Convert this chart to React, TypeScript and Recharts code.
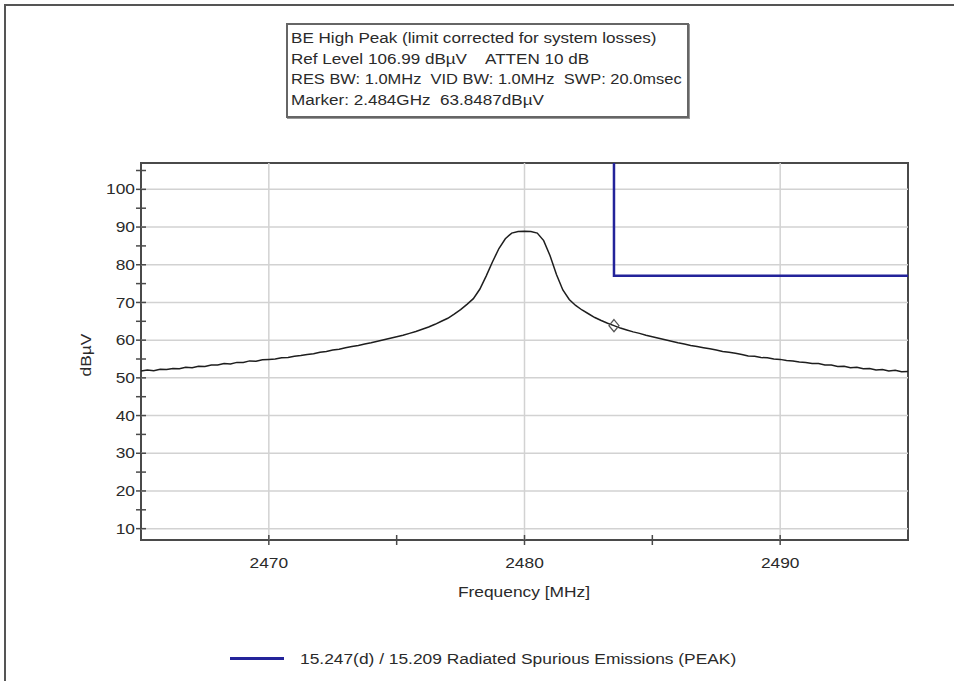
import React from 'react';
import { ComposedChart, Line, XAxis, YAxis, ReferenceLine, ReferenceArea, Scatter } from 'recharts';

// Frequency axis of the sweep (MHz)
const freqMHz = [
  2465.0, 2465.25, 2465.5, 2465.75, 2466.0, 2466.25, 2466.5, 2466.75, 2467.0, 2467.25,
  2467.5, 2467.75, 2468.0, 2468.25, 2468.5, 2468.75, 2469.0, 2469.25, 2469.5, 2469.75,
  2470.0, 2470.25, 2470.5, 2470.75, 2471.0, 2471.25, 2471.5, 2471.75, 2472.0, 2472.25,
  2472.5, 2472.75, 2473.0, 2473.25, 2473.5, 2473.75, 2474.0, 2474.25, 2474.5, 2474.75,
  2475.0, 2475.25, 2475.5, 2475.75, 2476.0, 2476.25, 2476.5, 2476.75, 2477.0, 2477.25,
  2477.5, 2477.75, 2478.0, 2478.25, 2478.5, 2478.75, 2479.0, 2479.25, 2479.5, 2479.75,
  2480.0, 2480.25, 2480.5, 2480.75, 2481.0, 2481.25, 2481.5, 2481.75, 2482.0, 2482.25,
  2482.5, 2482.75, 2483.0, 2483.25, 2483.5, 2483.75, 2484.0, 2484.25, 2484.5, 2484.75,
  2485.0, 2485.25, 2485.5, 2485.75, 2486.0, 2486.25, 2486.5, 2486.75, 2487.0, 2487.25,
  2487.5, 2487.75, 2488.0, 2488.25, 2488.5, 2488.75, 2489.0, 2489.25, 2489.5, 2489.75,
  2490.0, 2490.25, 2490.5, 2490.75, 2491.0, 2491.25, 2491.5, 2491.75, 2492.0, 2492.25,
  2492.5, 2492.75, 2493.0, 2493.25, 2493.5, 2493.75, 2494.0, 2494.25, 2494.5, 2494.75,
  2495.0,
];

// Measured peak trace (dBµV)
const levelDbuV = [
  51.8, 52.1, 51.9, 52.3, 52.2, 52.5, 52.4, 52.8, 52.7, 53.1,
  53.0, 53.4, 53.4, 53.8, 53.7, 54.1, 54.1, 54.5, 54.4, 54.8,
  54.9, 55.0, 55.3, 55.4, 55.7, 55.9, 56.2, 56.4, 56.8, 57.0,
  57.4, 57.6, 58.0, 58.3, 58.6, 59.0, 59.3, 59.7, 60.1, 60.5,
  60.9, 61.3, 61.8, 62.3, 62.9, 63.5, 64.2, 65.0, 65.8, 66.9,
  68.1, 69.5, 71.0, 73.5, 77.0, 80.8, 84.3, 86.9, 88.4, 88.8,
  88.9, 88.8, 88.4, 86.4, 82.4, 77.4, 73.3, 70.8, 69.2, 68.0,
  67.0, 66.0, 65.2, 64.5, 63.85, 63.2, 62.7, 62.2, 61.8, 61.3,
  60.9, 60.5, 60.1, 59.7, 59.3, 59.0, 58.6, 58.3, 58.0, 57.7,
  57.4, 57.0, 56.8, 56.5, 56.2, 55.8, 55.7, 55.4, 55.3, 55.0,
  54.9, 54.6, 54.5, 54.2, 54.1, 53.8, 53.8, 53.4, 53.4, 53.0,
  53.1, 52.7, 52.8, 52.4, 52.5, 52.1, 52.2, 51.8, 52.0, 51.6,
  51.7,
];

// Limit line 15.247(d) / 15.209 (corrected)
const limitFreq = [2483.5, 2483.5, 2495];
const limitLevel = [106.99, 77.1, 77.1];

// Marker
const markerFreq = [2483.5];
const markerLevel = [63.85];

const xTicks = [2470, 2475, 2480, 2485, 2490];
const xLabelTicks = [2470, 2480, 2490];
const yTicks = [10, 15, 20, 25, 30, 35, 40, 45, 50, 55, 60, 65, 70, 75, 80, 85, 90, 95, 100, 105];
const yLabelTicks = [10, 20, 30, 40, 50, 60, 70, 80, 90, 100];
const xDomain = [2465, 2495];
const yDomain = [6.99, 106.99];

const infoLines = [
  'BE High Peak (limit corrected for system losses)',
  'Ref Level 106.99 dB\u00B5V    ATTEN 10 dB',
  'RES BW: 1.0MHz  VID BW: 1.0MHz  SWP: 20.0msec',
  'Marker: 2.484GHz  63.8487dB\u00B5V',
];
const legendLabel = '15.247(d) / 15.209 Radiated Spurious Emissions (PEAK)';

const FONT = "'Liberation Sans', Arial, sans-serif";
const TEXT = '#2a2a2a';
const AXIS = '#4a4a4a';
const GRID = '#d2d2d2';
const LIMIT = '#23239a';
const SX = 1.24; // horizontal stretch of the original bitmap font
const SX_INFO = 1.22;
const SX_INFO_LONG = 1.175;

const trace = freqMHz.map((f, i) => ({ f, v: levelDbuV[i] }));
const limitData = limitFreq.map((f, i) => ({ f, v: limitLevel[i] }));
const markerData = markerFreq.map((f, i) => ({ f, v: markerLevel[i] }));

const XTick = (props: any) => {
  const { x, y, payload } = props;
  const showLabel = xLabelTicks.includes(payload.value);
  return (
    <g>
      <line x1={x} x2={x} y1={y - 5} y2={y + 5} stroke={AXIS} strokeWidth={1.5} />
      {showLabel && (
        <text
          transform={`translate(${x},${y + 28}) scale(${SX},1)`}
          textAnchor="middle"
          fill={TEXT}
          fontSize={14}
          fontFamily={FONT}
        >
          {payload.value}
        </text>
      )}
    </g>
  );
};

const YTick = (props: any) => {
  const { x, y, payload } = props;
  const showLabel = yLabelTicks.includes(payload.value);
  return (
    <g>
      <line x1={x - 5} x2={x + 5} y1={y} y2={y} stroke={AXIS} strokeWidth={1.5} />
      {showLabel && (
        <text
          transform={`translate(${x - 6},${y}) scale(${SX},1)`}
          dy="0.36em"
          textAnchor="end"
          fill={TEXT}
          fontSize={14}
          fontFamily={FONT}
        >
          {payload.value}
        </text>
      )}
    </g>
  );
};

const Diamond = (props: any) => {
  const { cx, cy } = props;
  if (cx == null || cy == null) return null;
  return (
    <polygon
      points={`${cx},${cy - 6} ${cx + 5},${cy} ${cx},${cy + 6} ${cx - 5},${cy}`}
      fill="none"
      stroke="#555"
      strokeWidth={1.3}
    />
  );
};

const stretch = (s: number, origin: string) => ({
  transform: `scaleX(${s})`,
  transformOrigin: origin,
});

export default function App() {
  return (
    <div
      style={{
        position: 'absolute',
        left: 0,
        top: 0,
        width: 954,
        height: 681,
        background: '#fff',
        overflow: 'hidden',
        fontFamily: FONT,
      }}
    >
      <div
        style={{
          position: 'absolute',
          left: 4,
          top: 4,
          width: 1000,
          height: 700,
          borderTop: '2px solid #555',
          borderLeft: '2px solid #555',
        }}
      />
      <div style={{ position: 'absolute', left: 0, top: 0 }}>
        <ComposedChart
          width={954}
          height={681}
          data={trace}
          margin={{ top: 163, right: 46, bottom: 111, left: 81 }}
        >
          <XAxis
            dataKey="f"
            type="number"
            domain={xDomain}
            ticks={xTicks}
            allowDataOverflow
            tickSize={0}
            tickMargin={0}
            tickLine={false}
            axisLine={false}
            height={30}
            tick={<XTick />}
            interval={0}
          />
          <YAxis
            type="number"
            domain={yDomain}
            ticks={yTicks}
            allowDataOverflow
            tickSize={0}
            tickMargin={0}
            tickLine={false}
            axisLine={false}
            width={60}
            tick={<YTick />}
            interval={0}
          />
          {xLabelTicks.map((t) => (
            <ReferenceLine key={`gx${t}`} x={t} stroke={GRID} strokeWidth={1.5} />
          ))}
          {yLabelTicks.map((t) => (
            <ReferenceLine key={`gy${t}`} y={t} stroke={GRID} strokeWidth={1.5} />
          ))}
          <ReferenceArea
            x1={xDomain[0]}
            x2={xDomain[1]}
            y1={yDomain[0]}
            y2={yDomain[1]}
            fill="none"
            fillOpacity={0}
            stroke={AXIS}
            strokeWidth={2}
          />
          <Line
            dataKey="v"
            type="linear"
            stroke="#1e1e1e"
            strokeWidth={1.5}
            dot={false}
            isAnimationActive={false}
          />
          <Line
            data={limitData}
            dataKey="v"
            type="linear"
            stroke={LIMIT}
            strokeWidth={2.5}
            dot={false}
            isAnimationActive={false}
          />
          <Scatter data={markerData} dataKey="v" shape={<Diamond />} isAnimationActive={false} />
        </ComposedChart>
      </div>

      {/* Axis titles */}
      <div
        style={{
          position: 'absolute',
          left: 86,
          top: 355,
          transform: `translate(-50%, -50%) rotate(-90deg) scaleX(${SX})`,
          fontSize: 14,
          color: TEXT,
          whiteSpace: 'nowrap',
        }}
      >
        dBµV
      </div>
      <div
        style={{
          position: 'absolute',
          left: 524,
          top: 592,
          transform: `translate(-50%, -50%) scaleX(${SX})`,
          fontSize: 14,
          color: TEXT,
          whiteSpace: 'nowrap',
        }}
      >
        Frequency [MHz]
      </div>

      {/* Info box */}
      <div
        style={{
          position: 'absolute',
          left: 286,
          top: 23,
          width: 396,
          height: 88,
          border: '2px solid #666',
          boxShadow: '1px 1px 0 #999',
          fontSize: 14,
          color: TEXT,
          lineHeight: '20.5px',
          paddingLeft: 3,
          paddingTop: 3,
          boxSizing: 'content-box',
          whiteSpace: 'pre',
        }}
      >
        {infoLines.map((l, i) => (
          <div key={i} style={stretch(i === 2 ? SX_INFO_LONG : SX_INFO, 'left center')}>
            {l}
          </div>
        ))}
      </div>

      {/* Legend */}
      <div
        style={{
          position: 'absolute',
          left: 230,
          top: 657,
          width: 54,
          height: 3,
          background: LIMIT,
        }}
      />
      <div
        style={{
          position: 'absolute',
          left: 300,
          top: 650,
          lineHeight: '18px',
          fontSize: 14,
          color: TEXT,
          whiteSpace: 'nowrap',
          ...stretch(SX, 'left center'),
        }}
      >
        {legendLabel}
      </div>
    </div>
  );
}
